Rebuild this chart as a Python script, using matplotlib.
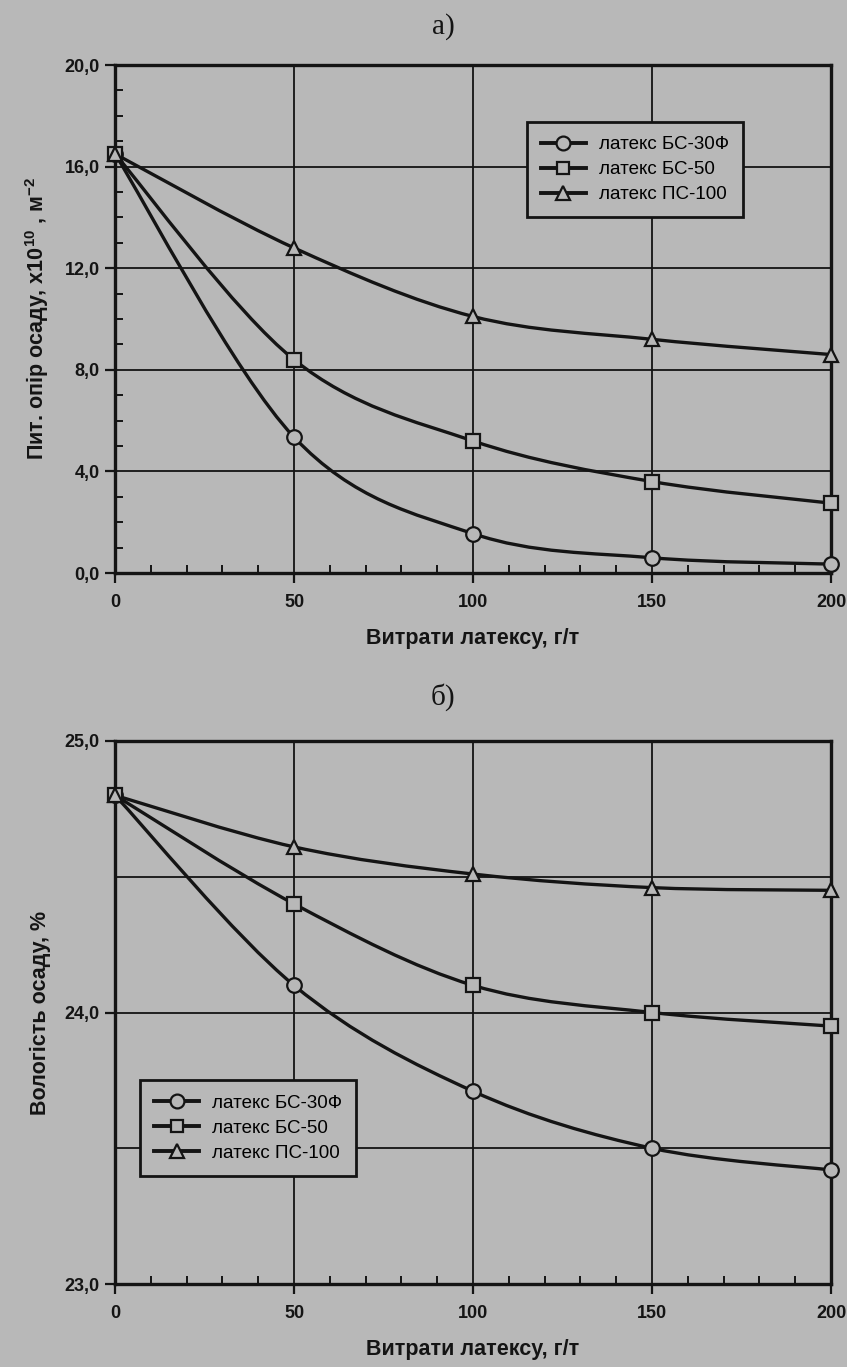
import matplotlib
matplotlib.use("Agg")
import matplotlib.pyplot as plt
from matplotlib.path import Path
from matplotlib.patches import PathPatch
from matplotlib.lines import Line2D
from matplotlib.ticker import MultipleLocator, FixedLocator, FixedFormatter

plt.rcParams['font.family'] = ['Liberation Sans', 'DejaVu Sans']
plt.rcParams['mathtext.fontset'] = 'custom'
plt.rcParams['mathtext.rm'] = 'Liberation Sans'
plt.rcParams['mathtext.bf'] = 'Liberation Sans:bold'

# ---------------- data ----------------
dose = [0, 50, 100, 150, 200]                      # Витрати латексу, г/т
series_names = ["латекс БС-30Ф", "латекс БС-50", "латекс ПС-100"]
markers = ["o", "s", "^"]

# a) Питомий опір осаду, x10^10 м^-2
resist_bs30f = [16.5, 5.35, 1.55, 0.6, 0.35]
resist_bs50 = [16.5, 8.4, 5.2, 3.6, 2.75]
resist_ps100 = [16.5, 12.8, 10.1, 9.2, 8.6]

# б) Вологість осаду, %
moist_bs30f = [24.8, 24.10, 23.71, 23.50, 23.42]
moist_bs50 = [24.8, 24.40, 24.10, 24.00, 23.95]
moist_ps100 = [24.8, 24.61, 24.51, 24.46, 24.45]

ytick_a = [0.0, 4.0, 8.0, 12.0, 16.0, 20.0]
ytick_a_labels = ["0,0", "4,0", "8,0", "12,0", "16,0", "20,0"]
ytick_b = [23.0, 24.0, 25.0]
ytick_b_labels = ["23,0", "24,0", "25,0"]
xticks = [0, 50, 100, 150, 200]

BG = "#b8b8b8"
INK = "#141414"


def smooth_path(xs, ys):
    """Excel-style smoothed polyline (cubic Bezier, Catmull-Rom tangents)."""
    pts = list(zip(xs, ys))
    n = len(pts)
    verts = [pts[0]]
    codes = [Path.MOVETO]
    for i in range(n - 1):
        p0 = pts[i - 1] if i > 0 else pts[i]
        p1 = pts[i]
        p2 = pts[i + 1]
        p3 = pts[i + 2] if i + 2 < n else pts[i + 1]
        c1 = (p1[0] + (p2[0] - p0[0]) / 6.0, p1[1] + (p2[1] - p0[1]) / 6.0)
        c2 = (p2[0] - (p3[0] - p1[0]) / 6.0, p2[1] - (p3[1] - p1[1]) / 6.0)
        verts += [c1, c2, p2]
        codes += [Path.CURVE4] * 3
    return Path(verts, codes)


fig = plt.figure(figsize=(8.47, 13.67), dpi=100, facecolor=BG)

axA = fig.add_axes([115 / 847, 1 - 573 / 1367, (831 - 115) / 847, (573 - 65) / 1367])
axB = fig.add_axes([115 / 847, 1 - 1284 / 1367, (831 - 115) / 847, (1284 - 741) / 1367])

ms = {"o": 10.5, "s": 9.5, "^": 10.5}
LABEL_FS = 15.5


def draw(ax, data, ylim):
    ax.set_facecolor(BG)
    handles = []
    for vals, name, m in zip(data, series_names, markers):
        ax.add_patch(PathPatch(smooth_path(dose, vals), fill=False, lw=2.4,
                               edgecolor=INK, zorder=3, capstyle='round'))
        ax.plot(dose, vals, ls='none', marker=m, ms=ms[m], mfc=BG, mec=INK,
                mew=1.6, zorder=4, clip_on=False)
        handles.append(Line2D([], [], color=INK, lw=2.8, marker=m, ms=ms[m] * 0.95,
                              mfc=BG, mec=INK, mew=1.6, label=name))
    ax.set_xlim(0, 200)
    ax.set_ylim(*ylim)
    for s in ax.spines.values():
        s.set_linewidth(2.4)
        s.set_color(INK)
    ax.xaxis.set_major_locator(FixedLocator(xticks))
    ax.xaxis.set_minor_locator(MultipleLocator(10))
    ax.tick_params(axis='both', which='major', direction='out', length=7, width=1.6,
                   color=INK, labelsize=13, pad=4)
    ax.tick_params(axis='x', which='major', pad=8)
    ax.tick_params(axis='both', which='minor', direction='in', length=6, width=1.4,
                   color=INK)
    for lab in ax.get_xticklabels() + ax.get_yticklabels():
        lab.set_fontweight('bold')
        lab.set_color(INK)
    ax.set_xlabel("Витрати латексу, г/т", fontsize=LABEL_FS, fontweight='bold',
                  color=INK, labelpad=12)
    return handles


leg_kw = dict(frameon=True, fancybox=False, edgecolor=INK, facecolor=BG,
              framealpha=1, fontsize=13.5, handlelength=2.4, borderpad=0.75,
              labelspacing=0.42, handletextpad=0.7, borderaxespad=0)

hA = draw(axA, [resist_bs30f, resist_bs50, resist_ps100], (0, 20))
axA.yaxis.set_major_locator(FixedLocator(ytick_a))
axA.yaxis.set_major_formatter(FixedFormatter(ytick_a_labels))
axA.yaxis.set_minor_locator(MultipleLocator(1.0))
axA.grid(True, which='major', color=INK, lw=1.3)
for lab in axA.get_yticklabels():
    lab.set_fontweight('bold')
axA.set_ylabel(r"Пит. опір осаду, х10$^{\mathbf{10}}$ , м$^{\mathbf{-2}}$",
               fontsize=LABEL_FS, fontweight='bold', color=INK, labelpad=10)
legA = axA.legend(handles=hA, loc='upper left', bbox_to_anchor=(0.575, 0.888), **leg_kw)
legA.get_frame().set_linewidth(2.0)

hB = draw(axB, [moist_bs30f, moist_bs50, moist_ps100], (23, 25))
axB.yaxis.set_major_locator(FixedLocator(ytick_b))
axB.yaxis.set_major_formatter(FixedFormatter(ytick_b_labels))
axB.yaxis.set_minor_locator(MultipleLocator(0.5))
axB.tick_params(axis='y', which='minor', length=0)
axB.grid(True, which='major', color=INK, lw=1.3)
axB.grid(True, which='minor', axis='y', color=INK, lw=1.3)
for lab in axB.get_yticklabels():
    lab.set_fontweight('bold')
axB.set_ylabel("Вологість осаду, %", fontsize=LABEL_FS, fontweight='bold', color=INK,
               labelpad=10)
legB = axB.legend(handles=hB, loc='upper left', bbox_to_anchor=(0.035, 0.375), **leg_kw)
legB.get_frame().set_linewidth(2.0)

fig.text(443 / 847, 1 - 27 / 1367, "а)", family='Liberation Serif', fontsize=21,
         ha='center', va='center', color=INK)
fig.text(443 / 847, 1 - 697 / 1367, "б)", family='Liberation Serif', fontsize=21,
         ha='center', va='center', color=INK)

fig.savefig("out.png", dpi=100, facecolor=BG)
